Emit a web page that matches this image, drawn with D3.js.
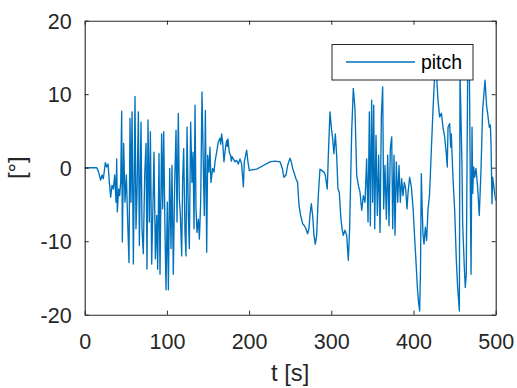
<!DOCTYPE html>
<html>
<head>
<meta charset="utf-8">
<script src="https://cdn.jsdelivr.net/npm/d3@7"></script>
<style>
  html, body { margin: 0; padding: 0; background: #fff; }
  svg { display: block; font-family: "Liberation Sans", Arial, Helvetica, sans-serif; }
</style>
</head>
<body>
<svg id="chart" width="517" height="388"></svg>
<script>
// Pitch angle over time
const time = [
  0, 14.6, 16.6, 19.4, 21.1, 22.7, 25.1, 26.7, 28.4, 30.0, 31.6, 33.2, 34.9, 36.5, 38.1, 38.9, 39.7, 41.3, 42.5, 43.8,
  45.0, 45.8, 47.4, 49.0, 50.7, 52.3, 53.9, 55.1, 56.3, 57.6, 59.2, 61.2, 62.4, 63.6, 65.3, 66.5, 68.5, 69.7, 71.3, 73.0,
  74.6, 75.8, 77.0, 78.6, 79.9, 81.5, 83.1, 84.3, 86.0, 87.6, 88.8, 90.4, 91.6, 93.6, 94.9, 96.1, 97.7, 98.9, 100.5, 101.8,
  103.4, 105.0, 106.2, 107.8, 109.5, 111.1, 112.3, 113.9, 115.1, 116.4, 118.0, 119.2, 120.4, 122.0, 123.2, 124.5, 126.1, 127.3, 128.9, 130.5,
  131.8, 133.0, 134.2, 135.4, 136.6, 138.3, 139.5, 141.1, 142.7, 144.3, 145.5, 146.8, 148.4, 149.6, 151.2, 152.4, 153.6, 155.6, 157.3, 158.5,
  160.5, 162.5, 164.6, 165.5, 166.6, 167.8, 168.6, 169.4, 171.1, 172.7, 173.5, 174.3, 175.9, 177.5, 178.4, 179.2, 180.8, 182.8, 184.8, 186.9,
  188.9, 190.9, 193.0, 194.2, 197.0, 198.6, 200.3, 203.1, 209.2, 217.3, 225.4, 231.5, 237.6, 240.4, 242.4, 244.9, 246.9, 249.7, 251.3, 253.0,
  255.0, 257.0, 259.0, 260.7, 262.7, 265.1, 267.2, 269.2, 271.2, 272.8, 274.0, 275.7, 277.3, 278.9, 280.5, 282.2, 284.2, 286.2, 288.6, 291.1,
  292.7, 295.1, 296.4, 298.4, 300.0, 301.6, 303.2, 304.9, 306.5, 308.1, 309.7, 311.4, 313.0, 314.6, 316.6, 318.7, 320.7, 322.3, 324.8, 326.8,
  328.8, 330.9, 332.9, 334.9, 337.0, 339.0, 341.0, 343.0, 344.7, 346.3, 347.5, 349.1, 350.3, 351.6, 352.8, 354.4, 356.0, 357.6, 359.3, 360.9,
  362.5, 363.7, 365.3, 367.0, 368.6, 370.2, 371.8, 373.5, 374.7, 376.3, 377.5, 379.1, 380.8, 382.4, 384.0, 385.6, 387.2, 388.9, 390.5, 392.1,
  393.3, 395.3, 397.4, 399.4, 401.4, 403.4, 404.7, 406.3, 407.5, 408.5, 409.5, 410.3, 411.5, 412.8, 414.4, 416.0, 417.6, 419.6, 421.7, 423.7,
  425.7, 427.8, 429.8, 431.8, 433.9, 435.9, 437.9, 439.9, 441.1, 442.0, 444.0, 445.2, 446.0, 448.0, 450.1, 452.1, 453.7, 455.8, 456.6, 459.0,
  459.8, 461.8, 463.0, 464.2, 465.9, 468.0, 470.0, 471.2, 472.0, 473.2, 474.4, 476.0, 478.0, 480.0, 482.1, 484.1, 487.0, 489.0, 490.2, 492.2,
  493.5, 494.3, 495.5, 496.3, 498.3, 500.0
];
const pitch = [
  0, 0, -0.5, -1.7, -1.0, -1.5, 0.7, 0.1, 0.5, -2.0, -4.0, -2.4, -2.9, -1.0, -4.7, 1.2, -6.0, -2.9, -3.8, -2.0,
  7.7, -10.1, 3.3, -4.7, -1.0, -7.4, -12.9, 6.7, -4.7, 7.6, -13.1, 9.7, -8.3, -3.8, 7.6, -10.6, 6.2, -8.3, -11.7, -1.0,
  3.3, -13.8, 6.5, -7.4, 4.9, -13.1, -4.7, 2.1, -12.4, -6.5, -13.8, 1.9, -14.5, 4.6, -5.6, 4.9, -8.8, -16.6, -4.7, -16.6,
  -0.1, -11.0, 0.3, -14.5, -2.0, 5.1, -7.4, 7.4, -4.2, -6.5, -12.0, -1.5, 2.6, -8.8, -12.0, 5.5, -6.5, -11.0, 6.2, -2.0,
  2.1, -8.3, 8.5, -5.6, -8.8, -7.0, -9.7, -4.7, 10.3, 0.3, -6.5, 7.8, -11.5, 1.7, -0.6, 2.8, -2.0, -0.1, -0.6, 0.8,
  2.1, 3.5, 4.0, 3.2, 4.6, 3.5, 2.2, 0.8, 2.6, 3.7, 2.9, 3.9, 2.1, 1.7, 0.9, 1.5, 1.2, 0.8, 1.0, 0.5,
  1.2, 0.5, -2.6, 0.8, 2.4, 0.8, -0.4, -0.3, -0.2, 0.3, 0.8, 0.9, 0.8, -0.1, -1.3, -1.0, 0.3, 1.3, 0.8, -0.1,
  -0.8, -1.5, -2.0, -5.1, -6.5, -7.6, -7.9, -8.3, -9.0, -8.3, -6.5, -4.9, -6.5, -9.2, -10.4, -9.2, -3.8, -0.2, -0.4, -0.6,
  -1.0, -2.9, 1.7, 7.6, 5.5, 4.0, 1.9, 4.6, 1.7, -2.9, -3.3, -6.5, -8.3, -9.2, -8.5, -9.2, -12.6, -8.3, 4.9, 10.8,
  8.0, -1.0, -2.4, -3.3, -5.8, -3.8, -4.7, 1.2, -7.4, 7.6, -7.9, 9.2, -4.7, 8.5, -8.3, 4.4, -6.5, 1.7, -8.8, 7.1,
  11.0, -5.6, 0.3, -7.0, 1.7, -7.9, 2.6, 4.2, -8.3, 1.7, -9.2, 0.8, -4.7, 0.3, -4.7, -1.5, -3.8, -2.0, -2.9, -5.6,
  -3.5, -1.3, -2.6, -5.4, -9.5, -13.5, -16.3, -18.5, -19.5, -14.0, -0.8, -4.5, -9.0, -10.4, -8.1, -9.9, -5.8, -3.5, 2.4, 7.8,
  12.5, 13.0, 9.2, 6.9, 7.4, 5.5, 4.2, 1.9, 0.1, 5.5, 6.0, 2.8, 4.6, -1.3, -5.8, -12.6, -16.3, -19.5, 13.0, 0.1,
  -7.6, -13.5, -16.3, -14.5, 13.0, 13.0, -14.5, 5.5, -3.5, 0.1, -1.3, -0.1, -2.6, -6.5, -0.4, 7.8, 11.9, 8.3, 7.4, 5.5,
  5.8, 3.3, -4.9, -1.3, -3.1, -4.5
];
const xTicks = [0, 100, 200, 300, 400, 500];
const yTicks = [-20, -10, 0, 10, 20];
const seriesName = "pitch";
const xTitle = "t [s]";
const yTitle = "[°]";

const axisColor = "#262626";
const lineColor = "#0072BD";

const svg = d3.select("#chart");
const box = { left: 84.7, right: 495.7, top: 20.7, bottom: 314.7 };

const x = d3.scaleLinear().domain([0, 500]).range([box.left, box.right]);
const y = d3.scaleLinear().domain([-20, 20]).range([box.bottom, box.top]);

// clip the trace to the plotting area
svg.append("defs").append("clipPath").attr("id", "plotArea")
  .append("rect")
  .attr("x", box.left).attr("y", box.top)
  .attr("width", box.right - box.left).attr("height", box.bottom - box.top);

const data = time.map((t, i) => ({ t, v: pitch[i] }));

svg.append("path")
  .datum(data)
  .attr("clip-path", "url(#plotArea)")
  .attr("fill", "none")
  .attr("stroke", lineColor)
  .attr("stroke-width", 1.35)
  .attr("stroke-linejoin", "round")
  .attr("d", d3.line().x(d => x(d.t)).y(d => y(d.v)));

// plain hyphen-minus labels
const plainNumber = d => String(d);

// axes: ticks point inwards, mirrored on the top and right edges
const tickLen = 4;
function styleAxis(g) {
  g.selectAll("path.domain").attr("stroke", axisColor).attr("stroke-width", 1.1);
  g.selectAll(".tick line").attr("stroke", axisColor).attr("stroke-width", 1);
}

const xAxis = svg.append("g")
  .attr("transform", `translate(0,${box.bottom})`)
  .call(d3.axisBottom(x).tickValues(xTicks).tickSize(-tickLen).tickSizeOuter(0).tickPadding(0).tickFormat(plainNumber));
styleAxis(xAxis);
xAxis.selectAll(".tick text")
  .attr("y", 34.5).attr("dy", null)
  .attr("fill", axisColor)
  .style("font-size", "21.5px");

const xAxisTop = svg.append("g")
  .attr("transform", `translate(0,${box.top})`)
  .call(d3.axisTop(x).tickValues(xTicks).tickSize(-tickLen).tickSizeOuter(0).tickFormat(""));
styleAxis(xAxisTop);

const yAxis = svg.append("g")
  .attr("transform", `translate(${box.left},0)`)
  .call(d3.axisLeft(y).tickValues(yTicks).tickSize(-tickLen).tickSizeOuter(0).tickFormat(plainNumber));
styleAxis(yAxis);
yAxis.selectAll(".tick text")
  .attr("x", -13).attr("dy", "0.36em")
  .attr("fill", axisColor)
  .style("font-size", "21.5px");

const yAxisRight = svg.append("g")
  .attr("transform", `translate(${box.right},0)`)
  .call(d3.axisRight(y).tickValues(yTicks).tickSize(-tickLen).tickSizeOuter(0).tickFormat(""));
styleAxis(yAxisRight);

// axis titles
svg.append("text")
  .attr("x", (box.left + box.right) / 2)
  .attr("y", 381)
  .attr("text-anchor", "middle")
  .attr("fill", axisColor)
  .style("font-size", "23.7px")
  .text(xTitle);

svg.append("text")
  .attr("transform", `translate(25,${(box.top + box.bottom) / 2}) rotate(-90)`)
  .attr("text-anchor", "middle")
  .attr("fill", axisColor)
  .style("font-size", "23.7px")
  .text(yTitle);

// legend
const legend = svg.append("g");
legend.append("rect")
  .attr("x", 332).attr("y", 44.5)
  .attr("width", 141).attr("height", 35.5)
  .attr("fill", "#fff")
  .attr("stroke", axisColor)
  .attr("stroke-width", 1);
legend.append("line")
  .attr("x1", 346).attr("x2", 415)
  .attr("y1", 62).attr("y2", 62)
  .attr("stroke", lineColor)
  .attr("stroke-width", 1.35);
legend.append("text")
  .attr("x", 421).attr("y", 69)
  .attr("fill", "#000")
  .style("font-size", "19.4px")
  .text(seriesName);
</script>
</body>
</html>
